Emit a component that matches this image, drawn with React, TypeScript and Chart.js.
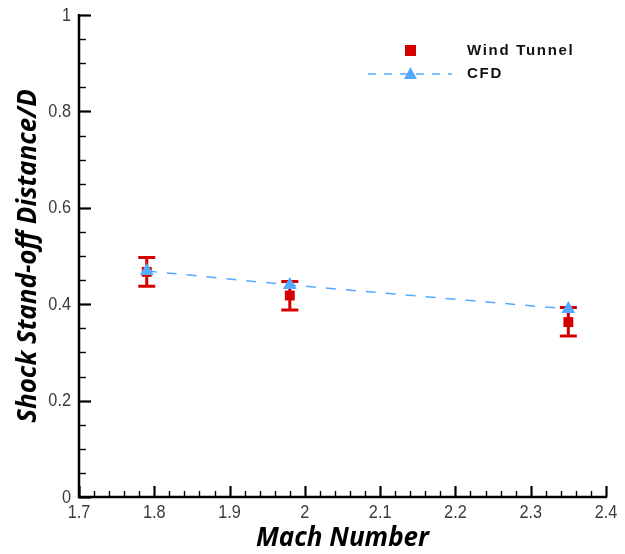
import React, { useEffect, useRef } from "react";
import { Chart, registerables } from "chart.js";

Chart.register(...registerables);

const machWT = [1.79, 1.98, 2.35];
const wtValues = [0.467, 0.418, 0.363];
const wtErrLow = [0.437, 0.388, 0.334];
const wtErrHigh = [0.497, 0.447, 0.393];

const machCFD = [1.79, 1.98, 2.35];
const cfdValues = [0.469, 0.44, 0.39];

const xTickValues = [1.7, 1.8, 1.9, 2.0, 2.1, 2.2, 2.3, 2.4];
const yTickValues = [0, 0.2, 0.4, 0.6, 0.8, 1];

const RED = "#d40000";
const BLUE = "#55aaff";
const LABEL_FONT = "18.5px 'Liberation Sans', Arial, sans-serif";
const TITLE_FONT = "'Open Sans', Lato, sans-serif";

const fmt = (v: number) => String(Number(v.toFixed(1)));

const errorBarPlugin = {
  id: "errorBars",
  beforeDatasetsDraw(chart: any) {
    const { ctx, scales } = chart;
    const xs = scales.x;
    const ys = scales.y;
    ctx.save();
    ctx.strokeStyle = RED;
    ctx.lineWidth = 3;
    for (let i = 0; i < machWT.length; i++) {
      const px = xs.getPixelForValue(machWT[i]);
      const pLo = ys.getPixelForValue(wtErrLow[i]);
      const pHi = ys.getPixelForValue(wtErrHigh[i]);
      ctx.beginPath();
      ctx.moveTo(px, pLo);
      ctx.lineTo(px, pHi);
      ctx.moveTo(px - 8.5, pLo);
      ctx.lineTo(px + 8.5, pLo);
      ctx.moveTo(px - 8.5, pHi);
      ctx.lineTo(px + 8.5, pHi);
      ctx.stroke();
    }
    ctx.restore();
  },
};

const axesPlugin = {
  id: "inwardAxes",
  afterDraw(chart: any) {
    const { ctx, scales, chartArea } = chart;
    const xs = scales.x;
    const ys = scales.y;
    const left = chartArea.left;
    const bottom = chartArea.bottom;
    ctx.save();
    ctx.strokeStyle = "#000";
    ctx.lineCap = "butt";
    ctx.lineWidth = 2.5;
    ctx.beginPath();
    ctx.moveTo(left, ys.getPixelForValue(1) - 1);
    ctx.lineTo(left, bottom);
    ctx.lineTo(xs.getPixelForValue(2.4) + 1, bottom);
    ctx.stroke();
    for (let k = 0; k <= 35; k++) {
      const v = 1.7 + k * 0.02;
      const px = Math.round(xs.getPixelForValue(v)) + 0.5;
      const major = k % 5 === 0;
      ctx.lineWidth = major ? 2.2 : 1.4;
      ctx.beginPath();
      ctx.moveTo(px, bottom);
      ctx.lineTo(px, bottom - (major ? 11 : 6));
      ctx.stroke();
    }
    for (let k = 0; k <= 20; k++) {
      const v = k * 0.05;
      const py = Math.round(ys.getPixelForValue(v)) + 0.5;
      const major = k % 4 === 0;
      ctx.lineWidth = major ? 2.2 : 1.4;
      ctx.beginPath();
      ctx.moveTo(left, py);
      ctx.lineTo(left + (major ? 12 : 7), py);
      ctx.stroke();
    }
    ctx.fillStyle = "#3a3a3a";
    ctx.font = LABEL_FONT;
    const sx = 0.88;
    ctx.textBaseline = "middle";
    for (const v of yTickValues) {
      const py = ys.getPixelForValue(v);
      ctx.save();
      ctx.translate(left - 8, py + 0.5);
      ctx.scale(sx, 1);
      ctx.textAlign = "right";
      ctx.fillText(fmt(v), 0, 0);
      ctx.restore();
    }
    for (const v of xTickValues) {
      const px = xs.getPixelForValue(v);
      ctx.save();
      ctx.translate(px, bottom + 16);
      ctx.scale(sx, 1);
      ctx.textAlign = "center";
      ctx.fillText(fmt(v), 0, 0);
      ctx.restore();
    }
    ctx.restore();
  },
};

const legendPlugin = {
  id: "insideLegend",
  afterDraw(chart: any) {
    const { ctx } = chart;
    ctx.save();
    ctx.fillStyle = RED;
    ctx.fillRect(405, 45, 11, 11);
    ctx.fillStyle = "#111";
    ctx.font = "bold 15px 'Liberation Sans', Arial, sans-serif";
    (ctx as any).letterSpacing = "1.7px";
    ctx.textBaseline = "middle";
    ctx.textAlign = "left";
    ctx.fillText("Wind Tunnel", 467, 51);
    ctx.fillText("CFD", 467, 74);
    (ctx as any).letterSpacing = "0px";
    ctx.strokeStyle = BLUE;
    ctx.lineWidth = 1.5;
    ctx.setLineDash([8, 8]);
    ctx.beginPath();
    ctx.moveTo(368, 74);
    ctx.lineTo(452, 74);
    ctx.stroke();
    ctx.setLineDash([]);
    ctx.fillStyle = BLUE;
    ctx.beginPath();
    ctx.moveTo(410.5, 67);
    ctx.lineTo(417, 79);
    ctx.lineTo(404, 79);
    ctx.closePath();
    ctx.fill();
    ctx.restore();
  },
};

export default function App() {
  const ref = useRef<HTMLCanvasElement>(null);
  useEffect(() => {
    if (!ref.current) return;
    const chart = new Chart(ref.current, {
      type: "scatter",
      data: {
        datasets: [
          {
            label: "CFD",
            data: machCFD.map((x, i) => ({ x, y: cfdValues[i] })),
            showLine: true,
            borderColor: BLUE,
            borderWidth: 1.5,
            borderDash: [10, 10],
            backgroundColor: BLUE,
            pointStyle: "triangle",
            pointRadius: 8,
            pointBorderWidth: 0,
            pointBackgroundColor: BLUE,
            order: 1,
          },
          {
            label: "Wind Tunnel",
            data: machWT.map((x, i) => ({ x, y: wtValues[i] })),
            showLine: false,
            backgroundColor: RED,
            borderColor: RED,
            pointStyle: "rect",
            pointRadius: 7,
            pointBorderWidth: 0,
            order: 2,
          },
        ],
      },
      options: {
        animation: false,
        responsive: false,
        layout: { padding: { top: 15, right: 19, left: 0, bottom: 0 } },
        plugins: {
          legend: { display: false },
          tooltip: { enabled: false },
        },
        scales: {
          x: {
            type: "linear",
            min: 1.7,
            max: 2.4,
            afterBuildTicks: (s: any) => {
              s.ticks = xTickValues.map((v) => ({ value: v }));
            },
            afterFit: (s: any) => {
              s.height = 57;
            },
            grid: { display: false, drawTicks: false },
            border: { display: false },
            ticks: { display: false },
            title: {
              display: true,
              text: "Mach Number",
              color: "#000",
              font: { family: TITLE_FONT, size: 26, weight: "bold", style: "italic" },
              padding: { top: 0, bottom: 0 },
            },
          },
          y: {
            type: "linear",
            min: 0,
            max: 1,
            afterBuildTicks: (s: any) => {
              s.ticks = yTickValues.map((v) => ({ value: v }));
            },
            afterFit: (s: any) => {
              s.width = 79;
            },
            grid: { display: false, drawTicks: false },
            border: { display: false },
            ticks: { display: false },
            title: {
              display: true,
              text: "Shock Stand-off Distance/D",
              color: "#000",
              font: { family: TITLE_FONT, size: 26, weight: "bold", style: "italic" },
              padding: { top: 13, bottom: 0 },
            },
          },
        },
      },
      plugins: [errorBarPlugin, axesPlugin, legendPlugin],
    } as any);
    return () => chart.destroy();
  }, []);
  return (
    <div style={{ position: "fixed", left: 0, top: 0, width: 625, height: 554, background: "#fff" }}>
      <canvas ref={ref} width={625} height={554} style={{ width: 625, height: 554 }} />
    </div>
  );
}
